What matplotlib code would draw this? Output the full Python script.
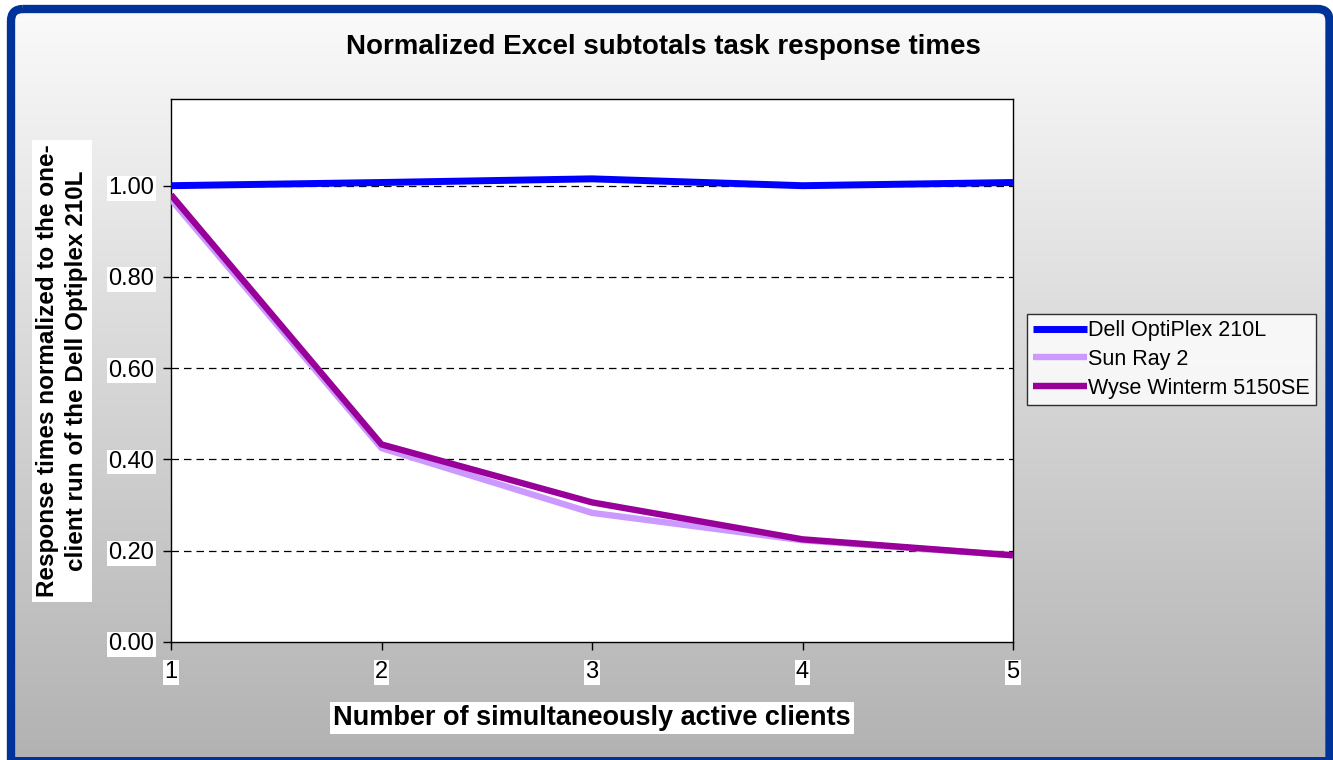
import matplotlib
matplotlib.use("Agg")
import matplotlib.pyplot as plt
import numpy as np
from matplotlib.patches import FancyBboxPatch, Rectangle

plt.rcParams['font.family'] = ['Liberation Sans', 'DejaVu Sans']

clients = [1, 2, 3, 4, 5]
dell = [1.00, 1.007, 1.015, 1.00, 1.007]
sunray = [0.97, 0.425, 0.283, 0.223, 0.19]
wyse = [0.98, 0.433, 0.306, 0.225, 0.19]
yticks = [0.0, 0.2, 0.4, 0.6, 0.8, 1.0]

title = "Normalized Excel subtotals task response times"
xlabel = "Number of simultaneously active clients"
ylabel = "Response times normalized to the one-\nclient run of the Dell Optiplex 210L"

W, H = 1333, 760
fig = plt.figure(figsize=(W / 100, H / 100), dpi=100)
fig.patch.set_facecolor('white')

# gradient background inside the blue frame
bg = fig.add_axes([0, 0, 1, 1], zorder=-10)
bg.set_axis_off()
bg.set_xlim(0, W)
bg.set_ylim(H, 0)
grad = np.linspace(251, 178, 256).reshape(-1, 1) / 255.0
img = np.dstack([grad, grad, grad])
x0, y0, x1, y1 = 11, 9, 1329.5, 790
frame_kw = dict(boxstyle="round,pad=0,rounding_size=12")
clip = FancyBboxPatch((x0, y0), x1 - x0, y1 - y0, transform=bg.transData,
                      facecolor='none', edgecolor='none', **frame_kw)
bg.add_patch(clip)
im = bg.imshow(img, extent=[0, W, H, 0], aspect='auto', zorder=0)
im.set_clip_path(clip)
border = FancyBboxPatch((x0, y0), x1 - x0, y1 - y0, facecolor='none',
                        edgecolor='#003399', linewidth=6, zorder=5, **frame_kw)
bg.add_patch(border)
bg.add_patch(Rectangle((x0, 756.5), x1 - x0, 4, facecolor='#003399', edgecolor='none', zorder=6))

ax = fig.add_axes([171 / W, 1 - 642 / H, (1013 - 171) / W, (642 - 99) / H])
ax.set_facecolor('white')
ax.plot(clients, sunray, color='#cc99ff', lw=4.6, label='Sun Ray 2', solid_capstyle='butt', zorder=3)
ax.plot(clients, wyse, color='#990099', lw=4.6, label='Wyse Winterm 5150SE', solid_capstyle='butt', zorder=4)
ax.plot(clients, dell, color='#0000ff', lw=5.0, label='Dell OptiPlex 210L', solid_capstyle='butt', zorder=5)

ax.set_xlim(1, 5)
ax.set_ylim(0, 1.19)
ax.set_xticks(clients)
ax.set_xticklabels([str(c) for c in clients])
ax.set_yticks(yticks)
ax.set_yticklabels([f"{v:.2f}" for v in yticks])
for v in yticks[1:]:
    ax.axhline(v, color='black', lw=0.9, ls=(0, (6, 4)), zorder=1)
for s in ax.spines.values():
    s.set_color('black')
    s.set_linewidth(1.0)
ax.tick_params(axis='both', direction='out', length=6, width=1, colors='black', labelsize=17)
ax.tick_params(axis='y', pad=6)
ax.tick_params(axis='x', pad=8)
for lab in ax.get_xticklabels() + ax.get_yticklabels():
    lab.set_bbox(dict(facecolor='white', edgecolor='none', pad=1))

fig.text(663 / W, 1 - 47 / H, title, ha='center', va='center', fontsize=20, fontweight='bold')
fig.text(592 / W, 1 - 718 / H, xlabel, ha='center', va='center', fontsize=19.5, fontweight='bold',
         bbox=dict(facecolor='white', edgecolor='none', pad=2))
fig.text(62 / W, 1 - 371 / H, ylabel, ha='center', va='center', rotation=90, fontsize=17.5,
         fontweight='bold', linespacing=1.3, multialignment='center',
         bbox=dict(facecolor='white', edgecolor='none', pad=3))

handles, labels = ax.get_legend_handles_labels()
order = [2, 0, 1]
leg = fig.legend([handles[i] for i in order], [labels[i] for i in order],
                 loc='upper left', bbox_to_anchor=(1027 / W, 1 - 314 / H),
                 fontsize=15.5, frameon=True, fancybox=False, handlelength=2.5,
                 handletextpad=0.05, borderpad=0.3, labelspacing=0.35, borderaxespad=0)
leg.get_frame().set_edgecolor('black')
leg.get_frame().set_linewidth(1.0)

fig.savefig('out.png', dpi=100)
